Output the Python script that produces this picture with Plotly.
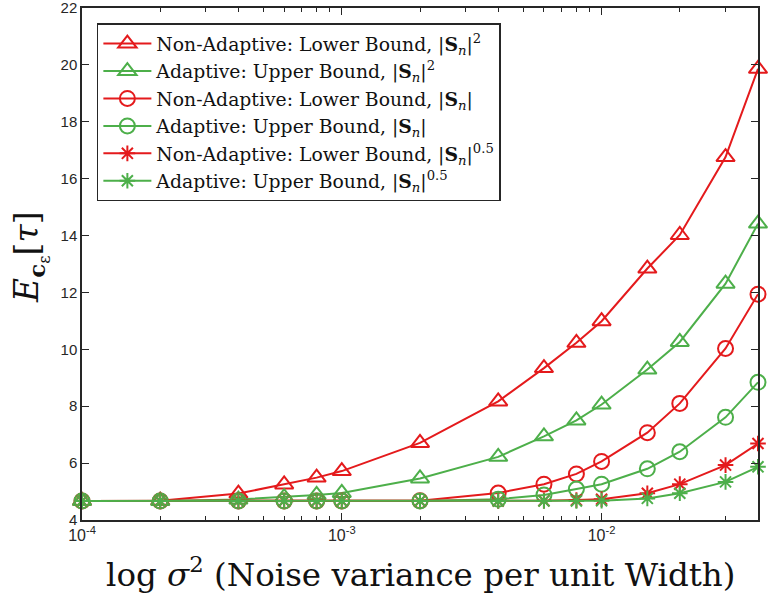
import plotly.graph_objects as go

x_vals = [1e-4, 2e-4, 4e-4, 6e-4, 8e-4, 1e-3, 2e-3, 4e-3, 6e-3, 8e-3, 1e-2, 1.5e-2, 2e-2, 3e-2, 4e-2]

na_sq = [4.67, 4.68, 4.93, 5.25, 5.49, 5.72, 6.71, 8.17, 9.34, 10.23, 10.99, 12.84, 14.02, 16.76, 19.86]
ad_sq = [4.67, 4.67, 4.72, 4.80, 4.88, 4.95, 5.46, 6.22, 6.94, 7.50, 8.06, 9.29, 10.26, 12.31, 14.42]
na_1 = [4.67, 4.67, 4.67, 4.67, 4.67, 4.67, 4.68, 4.95, 5.26, 5.62, 6.06, 7.07, 8.10, 10.03, 11.94]
ad_1 = [4.67, 4.67, 4.67, 4.67, 4.67, 4.67, 4.67, 4.73, 4.88, 5.09, 5.26, 5.80, 6.40, 7.61, 8.84]
na_h = [4.67, 4.67, 4.67, 4.67, 4.67, 4.67, 4.67, 4.67, 4.68, 4.70, 4.73, 4.94, 5.26, 5.93, 6.69]
ad_h = [4.67, 4.67, 4.67, 4.67, 4.67, 4.67, 4.67, 4.67, 4.67, 4.67, 4.68, 4.76, 4.94, 5.34, 5.87]

names = [
    "Non-Adaptive: Lower Bound, |<b>S</b><sub><i>n</i></sub>|<sup>2</sup>",
    "Adaptive: Upper Bound, |<b>S</b><sub><i>n</i></sub>|<sup>2</sup>",
    "Non-Adaptive: Lower Bound, |<b>S</b><sub><i>n</i></sub>|",
    "Adaptive: Upper Bound, |<b>S</b><sub><i>n</i></sub>|",
    "Non-Adaptive: Lower Bound, |<b>S</b><sub><i>n</i></sub>|<sup>0.5</sup>",
    "Adaptive: Upper Bound, |<b>S</b><sub><i>n</i></sub>|<sup>0.5</sup>",
]
series = [na_sq, ad_sq, na_1, ad_1, na_h, ad_h]

y_ticks = [4, 6, 8, 10, 12, 14, 16, 18, 20, 22]
x_ticks = [1e-4, 1e-3, 1e-2]
x_ticktext = ["10<sup>-4</sup>", "10<sup>-3</sup>", "10<sup>-2</sup>"]

RED = "#e41a1c"
GREEN = "#4daf4a"
colors = [RED, GREEN, RED, GREEN, RED, GREEN]
symbols = ["triangle-up-open", "triangle-up-open", "circle-open", "circle-open",
           "asterisk-open", "asterisk-open"]
sizes = [16, 16, 15, 15, 13, 13]

fig = go.Figure()
for ys, nm, c, s, sz in zip(series, names, colors, symbols, sizes):
    fig.add_trace(go.Scatter(
        x=x_vals, y=ys, name=nm, mode="lines+markers", cliponaxis=False,
        line=dict(color=c, width=2),
        marker=dict(symbol=s, size=sz, color=c, line=dict(color=c, width=2)),
    ))

minor_vals = []
for d in [1e-4, 1e-3, 1e-2]:
    for k in range(2, 10):
        v = k * d
        if v <= 4e-2:
            minor_vals.append(v)

axis_color = "#262626"
SERIF = "DejaVu Serif"
fig.update_layout(
    width=769, height=601,
    margin=dict(l=82, r=11, t=8, b=81),
    plot_bgcolor="white", paper_bgcolor="white",
    showlegend=True,
    legend=dict(
        x=0.022, y=0.97, xanchor="left", yanchor="top",
        bgcolor="white", bordercolor="#262626", borderwidth=1.5,
        font=dict(family=SERIF, size=18.8, color="#111"),
        tracegroupgap=0, itemwidth=48,
    ),
    xaxis=dict(
        type="log", range=[-4, 1.60206 - 3], automargin=False,
        tickmode="array", tickvals=x_ticks, ticktext=x_ticktext,
        ticks="inside", ticklen=7, tickwidth=1, tickcolor=axis_color,
        showline=True, linecolor=axis_color, linewidth=1.5, mirror="allticks",
        showgrid=False, zeroline=False, ticklabeloverflow="allow",
        minor=dict(tickvals=minor_vals, ticks="inside", ticklen=4, tickcolor=axis_color, showgrid=False),
        tickfont=dict(family="Liberation Sans", size=16, color=axis_color),
    ),
    yaxis=dict(
        range=[4, 22], tickmode="array", tickvals=y_ticks, automargin=False,
        ticks="inside", ticklen=7, tickwidth=1, tickcolor=axis_color,
        showline=True, linecolor=axis_color, linewidth=1.5, mirror="allticks",
        showgrid=False, zeroline=False, ticklabeloverflow="allow",
        tickfont=dict(family="Liberation Sans", size=15, color=axis_color),
    ),
    annotations=[
        dict(text="log <i>σ</i><sup>2</sup> (Noise variance per unit Width)",
             xref="paper", yref="paper", x=0.5, y=-0.103, xanchor="center", yanchor="middle",
             showarrow=False, font=dict(family=SERIF, size=32.5, color="#111")),
        dict(text="<i>E</i><sub><b>c</b><sub>ε</sub></sub>[<i>τ</i>]",
             xref="paper", yref="paper", x=-0.076, y=0.513, xanchor="center", yanchor="middle",
             textangle=-90, showarrow=False,
             font=dict(family=SERIF, size=33, color="#111")),
    ],
)

fig.write_html("out.html", config={"displayModeBar": False},
               post_script="document.body.style.margin='0';")
